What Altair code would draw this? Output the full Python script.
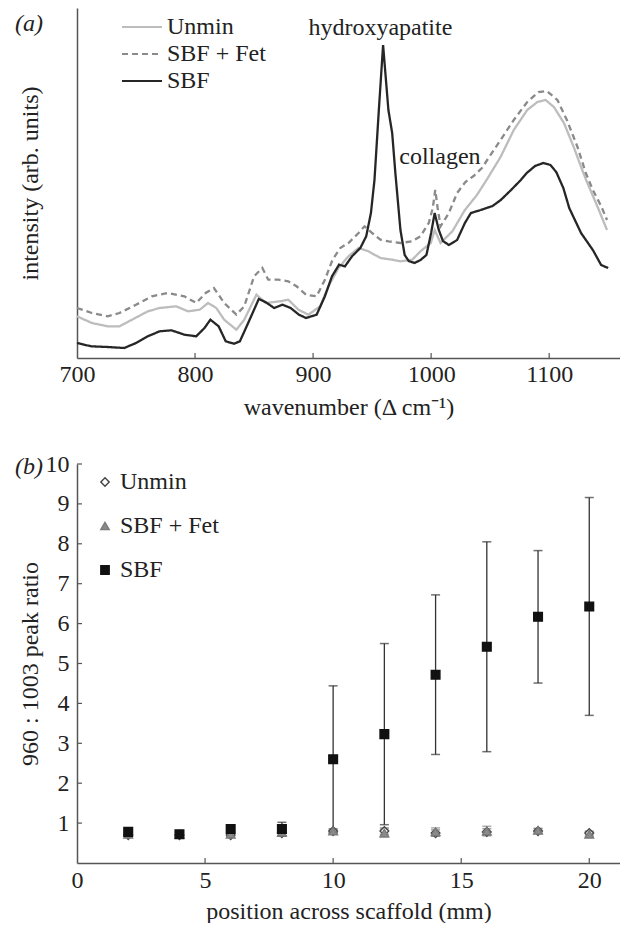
import altair as alt
import pandas as pd

FONT = "Liberation Serif"
TXT = "#222222"
FS = 24

# ---------------- panel (a): Raman spectra ----------------
series_names = ["Unmin", "SBF + Fet", "SBF"]

unmin_wn = [700, 712.6, 726, 736, 746.6, 760, 770, 784, 794, 804, 811, 818, 824.7, 835, 841.7,
            852, 860, 872, 879, 887.6, 896, 906, 913, 921.5, 930, 938.5, 947, 957, 967, 974,
            984, 991, 999.7, 1003, 1008, 1018, 1028.6, 1038.8, 1048, 1058.8, 1070, 1081.4,
            1090, 1097, 1104, 1112.5, 1120.8, 1128, 1132, 1140.7, 1149]
unmin_int = [41.7, 35, 31.7, 31.7, 38.3, 46.7, 50, 51.7, 46.7, 48.3, 55, 50, 38.3, 28.3, 38.3,
             63.3, 55, 56.7, 58.3, 48.3, 43.3, 51.7, 71.7, 90, 101.7, 110, 106.7, 100, 98.3, 96.7,
             98.3, 106.7, 115, 128, 115, 126.7, 148, 163, 180, 201, 228, 248,
             256, 258, 251, 235, 211, 188, 176, 152, 128]

fet_wn = [700, 712.6, 726, 736, 750, 763.5, 777, 791, 801, 809, 816, 824.7, 835, 841.7, 850,
          857, 862, 870.6, 879, 886, 894, 903, 910, 916.5, 923, 930, 938.5, 943.6, 950, 957,
          964, 974, 984, 991, 998, 1001.4, 1003.5, 1005.5, 1008, 1015, 1022, 1029, 1036, 1043,
          1058.8, 1070, 1081.4, 1091, 1098, 1107, 1115, 1124, 1131, 1137, 1144, 1149]
fet_int = [50, 45, 41.7, 45, 53.3, 61.7, 65, 61.7, 55, 65, 70, 55, 43.3, 51.7, 81.7,
           90, 78.3, 78.3, 76.7, 71.7, 63.3, 61.7, 78.3, 98.3, 110, 115, 125, 131.7, 125, 118.3,
           116.7, 115, 116.7, 121.7, 135, 150, 168, 150, 131.7, 145, 165, 176, 182, 190,
           218, 238, 256, 266, 267, 258, 238, 211, 185, 168, 152, 138]

sbf_wn = [700, 712, 726, 740, 750, 760, 770, 780, 791, 801, 808, 813, 820, 826, 833, 838, 845,
          854, 860, 867, 874, 881, 888, 894, 903, 910, 916, 922, 927, 933, 940, 945, 949, 952,
          955.6, 959.3, 963.8, 967, 969.7, 974, 977.6, 981, 986, 991, 996, 1000, 1003, 1006.5,
          1010, 1015, 1022, 1028.6, 1033.7, 1042, 1052, 1059, 1067.7, 1076, 1081, 1088, 1095,
          1101, 1106, 1112, 1117, 1127, 1137, 1144, 1150]
sbf_int = [15, 11.7, 11, 10, 15, 21.7, 26.7, 27.7, 23.3, 21.7, 30, 38.3, 31.7, 16.7, 14.3, 16.7, 35,
           59, 55.7, 50, 53.3, 50, 43.3, 40, 43.3, 61.7, 81.7, 93.3, 91.7, 101.7, 110, 121.7, 145, 178,
           246, 313, 248, 225, 185, 128, 103, 97, 95, 98, 103, 125, 145, 128,
           117, 113, 118, 135, 145, 148, 152, 158, 168, 178, 185, 192, 195,
           193, 186, 170, 150, 125, 108, 93, 90]

rows = []
for name, wn, val in zip(series_names, [unmin_wn, fet_wn, sbf_wn], [unmin_int, fet_int, sbf_int]):
    for w, v in zip(wn, val):
        rows.append({"series": name, "wavenumber": w, "intensity": v})
spec = pd.DataFrame(rows)

wn_ticks = [700, 800, 900, 1000, 1100]
peak_labels = ["hydroxyapatite", "collagen"]
peak_wn = [957, 973]
peak_int = [330, 201]

W = 543
H1 = 350
H2 = 399

xs1 = alt.Scale(domain=[700, 1160], nice=False, zero=False)
ys1 = alt.Scale(domain=[0, 350], nice=False, zero=False)

# custom path: a 40 px horizontal stroke inside a 20 px legend cell
leg_a = alt.Legend(orient="none", legendX=53, legendY=7, title=None, symbolType="M-2,0H2",
                   symbolSize=400, symbolStrokeWidth=2.2, labelFont=FONT, labelFontSize=FS,
                   labelColor=TXT, rowPadding=3, labelOffset=13, padding=0)

lines = alt.Chart(spec).mark_line(strokeWidth=2.3).encode(
    x=alt.X("wavenumber:Q", scale=xs1,
            axis=alt.Axis(values=wn_ticks, title="wavenumber (Δ cm⁻¹)", labelFlush=False,
                          ticks=False, labelPadding=4, titlePadding=9, format="d")),
    y=alt.Y("intensity:Q", scale=ys1,
            axis=alt.Axis(labels=False, ticks=False, title="intensity (arb. units)",
                          titleX=-47, titleBaseline="middle")),
    color=alt.Color("series:N", scale=alt.Scale(domain=series_names,
                                                range=["#bdbdbd", "#8a8a8a", "#262626"]),
                    legend=leg_a),
    strokeDash=alt.StrokeDash("series:N", scale=alt.Scale(domain=series_names,
                                                          range=[[1, 0], [6, 4], [1, 0]]),
                              legend=leg_a),
)

ann_df = pd.DataFrame({"label": peak_labels, "wavenumber": peak_wn, "intensity": peak_int})
ann1 = alt.Chart(ann_df.iloc[[0]]).mark_text(font=FONT, fontSize=FS, color=TXT, align="center",
                                             baseline="middle").encode(
    x=alt.X("wavenumber:Q", scale=xs1), y=alt.Y("intensity:Q", scale=ys1), text="label:N")
ann2 = alt.Chart(ann_df.iloc[[1]]).mark_text(font=FONT, fontSize=FS, color=TXT, align="left",
                                             baseline="middle").encode(
    x=alt.X("wavenumber:Q", scale=xs1), y=alt.Y("intensity:Q", scale=ys1), text="label:N")

ticks_a = alt.Chart(pd.DataFrame({"v": wn_ticks[1:]})).mark_rule(color="#555555", strokeWidth=1.2).encode(
    x=alt.X("v:Q", scale=xs1), y=alt.value(H1), y2=alt.value(H1 - 5))

lab_a = alt.Chart(pd.DataFrame({"t": ["(a)"]})).mark_text(
    font=FONT, fontSize=FS, color=TXT, align="left", baseline="middle", fontStyle="italic").encode(
    x=alt.value(-62), y=alt.value(16), text="t:N")

top = alt.layer(lines, ann1, ann2, ticks_a, lab_a).properties(width=W, height=H1)

# ---------------- panel (b): peak ratio ----------------
positions = [2, 4, 6, 8, 10, 12, 14, 16, 18, 20]
unmin_ratio = [0.70, 0.70, 0.70, 0.75, 0.80, 0.80, 0.75, 0.78, 0.80, 0.75]
unmin_err = [0.05, 0.05, 0.05, 0.08, 0.06, 0.08, 0.08, 0.08, 0.06, 0.05]
fet_ratio = [0.72, 0.72, 0.72, 0.77, 0.80, 0.75, 0.78, 0.80, 0.82, 0.72]
fet_err = [0.05, 0.05, 0.05, 0.08, 0.05, 0.10, 0.10, 0.12, 0.05, 0.06]
sbf_ratio = [0.78, 0.72, 0.85, 0.85, 2.60, 3.23, 4.72, 5.42, 6.17, 6.43]
sbf_err = [0.05, 0.05, 0.05, 0.17, 1.84, 2.27, 2.00, 2.63, 1.66, 2.73]

rows = []
for name, r, e in zip(series_names, [unmin_ratio, fet_ratio, sbf_ratio], [unmin_err, fet_err, sbf_err]):
    for p, rv, ev in zip(positions, r, e):
        rows.append({"sample": name, "pos": p, "ratio": rv, "lo": rv - ev, "hi": rv + ev})
pts = pd.DataFrame(rows)

xs2 = alt.Scale(domain=[0, 21.2], nice=False, zero=False)
ys2 = alt.Scale(domain=[0, 10], nice=False, zero=False)
err_col = alt.Scale(domain=series_names, range=["#777777", "#888888", "#333333"])

bars = alt.Chart(pts).mark_rule(strokeWidth=1.3).encode(
    x=alt.X("pos:Q", scale=xs2), y=alt.Y("lo:Q", scale=ys2), y2="hi:Q",
    color=alt.Color("sample:N", scale=err_col, legend=None))
cap_hi = alt.Chart(pts).mark_tick(orient="horizontal", size=9, thickness=1.5).encode(
    x=alt.X("pos:Q", scale=xs2), y=alt.Y("hi:Q", scale=ys2),
    color=alt.Color("sample:N", scale=err_col, legend=None))
cap_lo = alt.Chart(pts).mark_tick(orient="horizontal", size=9, thickness=1.5).encode(
    x=alt.X("pos:Q", scale=xs2), y=alt.Y("lo:Q", scale=ys2),
    color=alt.Color("sample:N", scale=err_col, legend=None))

leg_b = alt.Legend(orient="none", legendX=16, legendY=6, title=None, labelFont=FONT,
                   labelFontSize=FS, labelColor=TXT, rowPadding=20, labelOffset=3, padding=0,
                   symbolSize=70, symbolStrokeWidth=1.4)

points = alt.Chart(pts).mark_point(filled=True, size=75, strokeWidth=1.4, opacity=1).encode(
    x=alt.X("pos:Q", scale=xs2,
            axis=alt.Axis(values=[0, 5, 10, 15, 20], title="position across scaffold (mm)",
                          labelFlush=False, ticks=False, labelPadding=5, titlePadding=7)),
    y=alt.Y("ratio:Q", scale=ys2,
            axis=alt.Axis(values=[1, 2, 3, 4, 5, 6, 7, 8, 9, 10], title="960 : 1003 peak ratio",
                          ticks=False, labelPadding=8, titleX=-47, titleBaseline="middle")),
    shape=alt.Shape("sample:N", scale=alt.Scale(domain=series_names,
                                                range=["diamond", "triangle-up", "square"]),
                    legend=leg_b),
    fill=alt.Fill("sample:N", scale=alt.Scale(domain=series_names,
                                              range=["#ffffff", "#8a8a8a", "#111111"]),
                  legend=leg_b),
    stroke=alt.Stroke("sample:N", scale=alt.Scale(domain=series_names,
                                                  range=["#444444", "#7a7a7a", "#111111"]),
                      legend=leg_b),
)

ticks_bx = alt.Chart(pd.DataFrame({"v": [5, 10, 15, 20]})).mark_rule(color="#555555", strokeWidth=1.2).encode(
    x=alt.X("v:Q", scale=xs2), y=alt.value(H2), y2=alt.value(H2 - 5))
ticks_by = alt.Chart(pd.DataFrame({"v": [1, 2, 3, 4, 5, 6, 7, 8, 9, 10]})).mark_rule(color="#555555", strokeWidth=1.2).encode(
    y=alt.Y("v:Q", scale=ys2), x=alt.value(0), x2=alt.value(5))

lab_b = alt.Chart(pd.DataFrame({"t": ["(b)"]})).mark_text(
    font=FONT, fontSize=FS, color=TXT, align="left", baseline="middle", fontStyle="italic").encode(
    x=alt.value(-62), y=alt.value(3), text="t:N")

bottom = alt.layer(bars, cap_hi, cap_lo, points, ticks_bx, ticks_by, lab_b).properties(
    width=W, height=H2).resolve_scale(color="independent")

chart = alt.vconcat(top, bottom, spacing=33).resolve_scale(
    color="independent", strokeDash="independent", shape="independent",
    fill="independent", stroke="independent"
).resolve_legend(
    color="independent", strokeDash="independent", shape="independent",
    fill="independent", stroke="independent"
).properties(
    padding={"left": 7, "top": 0, "right": 0, "bottom": 0}
).configure_view(stroke=None).configure_axis(
    domainColor="#555555", domainWidth=1.5, grid=False,
    labelFont=FONT, labelFontSize=FS, labelColor=TXT,
    titleFont=FONT, titleFontSize=FS, titleFontWeight="normal", titleColor=TXT,
)

chart.save("out.html", embed_options={"renderer": "svg", "actions": False})
